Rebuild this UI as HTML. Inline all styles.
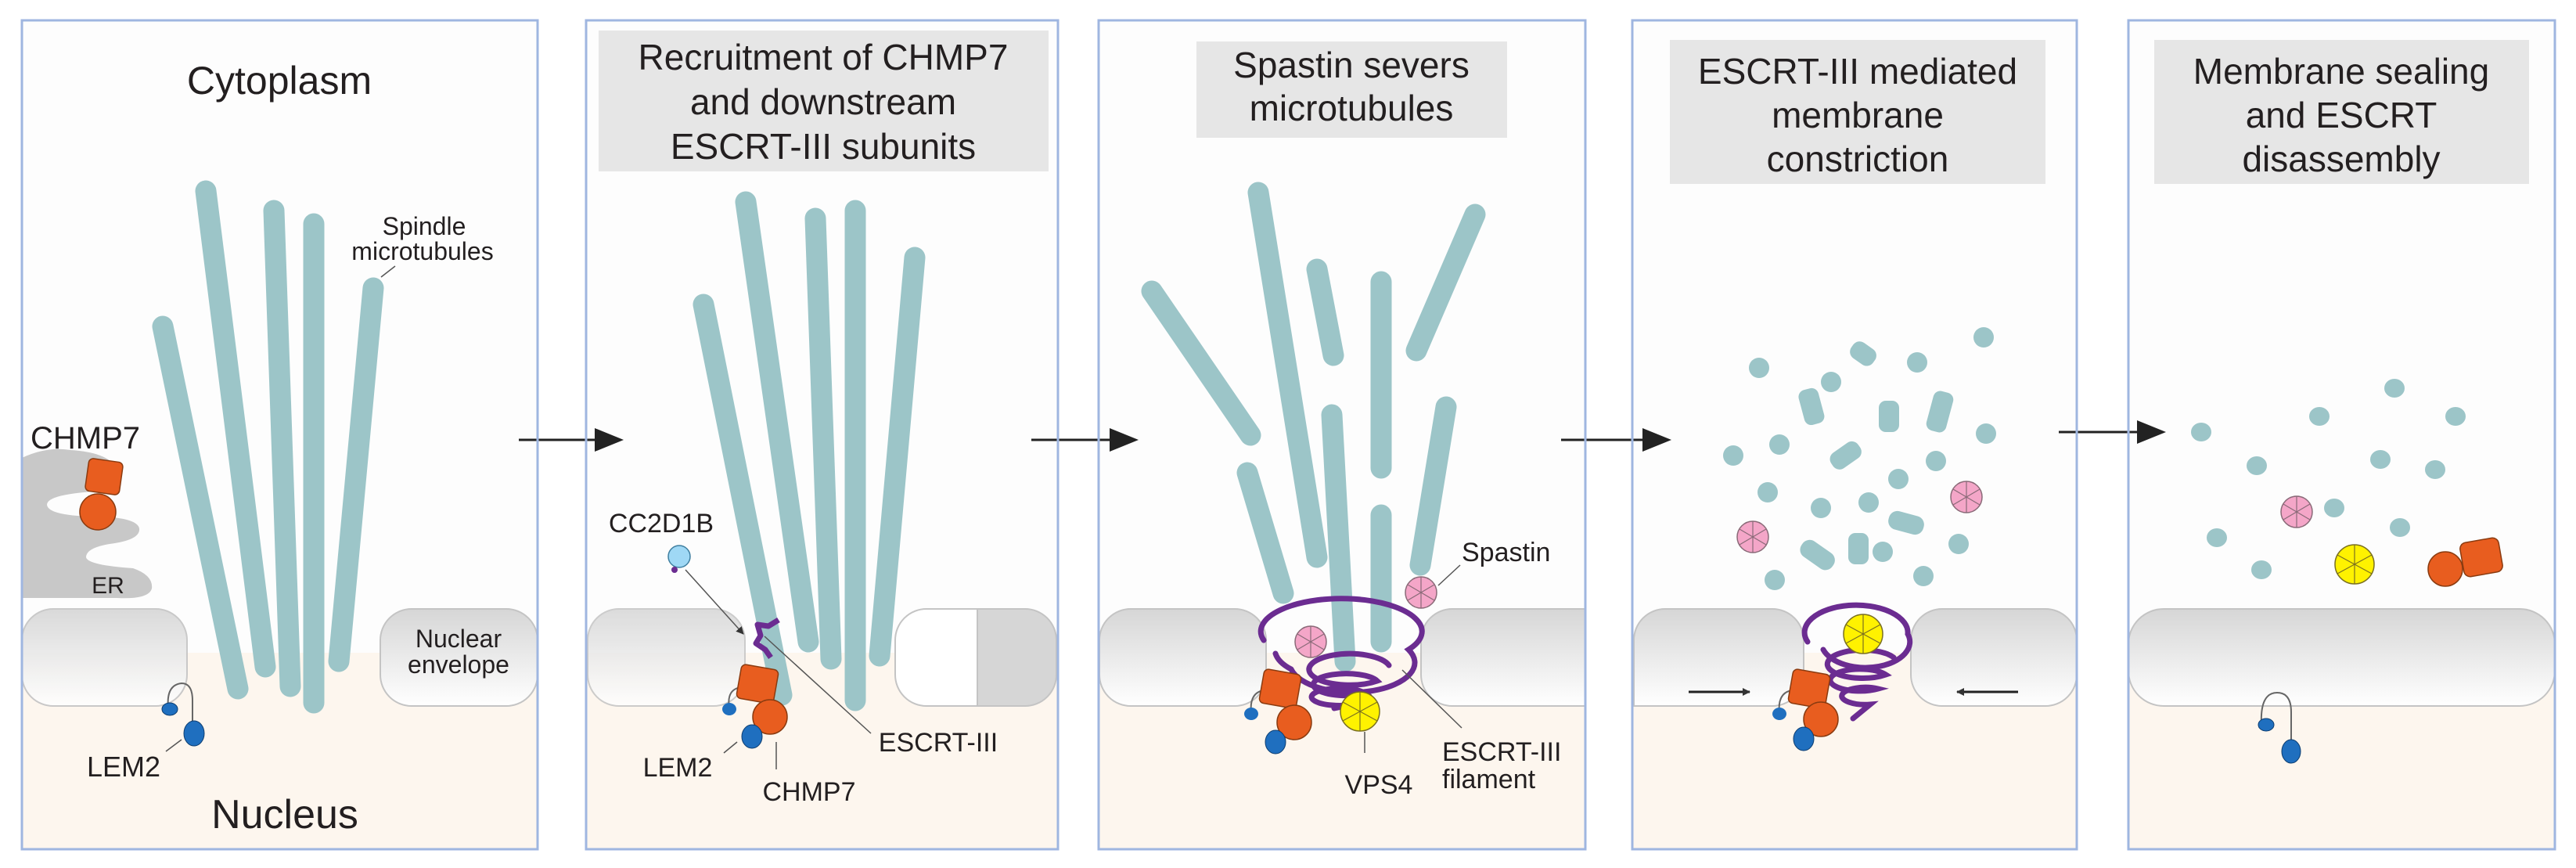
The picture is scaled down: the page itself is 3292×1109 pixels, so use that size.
<!DOCTYPE html>
<html><head><meta charset="utf-8"><style>
html,body{margin:0;padding:0;background:#fff}
svg{display:block}
text{font-family:"Liberation Sans",sans-serif;fill:#231f20}
</style></head><body>
<svg width="3292" height="1109" viewBox="0 0 3292 1109" xmlns="http://www.w3.org/2000/svg">
<defs>
<linearGradient id="mg" x1="0" y1="0" x2="0" y2="1"><stop offset="0" stop-color="#d6d6d6"/><stop offset="1" stop-color="#ffffff"/></linearGradient>
<g id="pink"><circle r="20" fill="#f4a6c8" stroke="#8a6a78" stroke-width="1.5"/><path d="M0 0L0 -20M0 0L17 -10M0 0L17 10M0 0L0 20M0 0L-17 10M0 0L-17 -10" stroke="#8a6a78" stroke-width="1.2"/></g>
<g id="yel"><circle r="25" fill="#fff200" stroke="#7a7020" stroke-width="1.5"/><path d="M0 0L0 -25M0 0L22 -12M0 0L22 12M0 0L0 25M0 0L-22 12M0 0L-22 -12" stroke="#7a7020" stroke-width="1.2"/></g>
<marker id="ah" markerWidth="10" markerHeight="10" refX="9" refY="5" orient="auto" markerUnits="userSpaceOnUse"><path d="M0 0L10 5L0 10z" fill="#333"/></marker>
</defs>
<rect width="3292" height="1109" fill="#fff"/>

<!-- panel backgrounds -->
<g stroke="none">
<rect x="28" y="26" width="659" height="808" fill="#fdfdfd"/><rect x="28" y="834" width="659" height="251" fill="#fdf6ee"/>
<rect x="749" y="26" width="603" height="808" fill="#fdfdfd"/><rect x="749" y="834" width="603" height="251" fill="#fdf6ee"/>
<rect x="1404" y="26" width="622" height="808" fill="#fdfdfd"/><rect x="1404" y="834" width="622" height="251" fill="#fdf6ee"/>
<rect x="2086" y="26" width="568" height="808" fill="#fdfdfd"/><rect x="2086" y="834" width="568" height="251" fill="#fdf6ee"/>
<rect x="2720" y="26" width="545" height="808" fill="#fdfdfd"/><rect x="2720" y="834" width="545" height="251" fill="#fdf6ee"/>
</g>

<!-- title boxes -->
<rect x="765" y="39" width="575" height="180" fill="#e6e6e6"/>
<rect x="1529" y="53" width="397" height="123" fill="#e6e6e6"/>
<rect x="2134" y="51" width="480" height="184" fill="#e6e6e6"/>
<rect x="2753" y="51" width="479" height="184" fill="#e6e6e6"/>

<g font-size="46" text-anchor="middle">
<text x="357" y="120" font-size="50">Cytoplasm</text>
<text x="364" y="1058" font-size="52">Nucleus</text>
<text x="1052" y="89">Recruitment of CHMP7</text>
<text x="1052" y="146">and downstream</text>
<text x="1052" y="203">ESCRT-III subunits</text>
<text x="1727" y="99">Spastin severs</text>
<text x="1727" y="154">microtubules</text>
<text x="2374" y="107">ESCRT-III mediated</text>
<text x="2374" y="163">membrane</text>
<text x="2374" y="219">constriction</text>
<text x="2992" y="107">Membrane sealing</text>
<text x="2992" y="163">and ESCRT</text>
<text x="2992" y="219">disassembly</text>
</g>

<!-- ===== Panel 1 ===== -->
<path d="M28 585 Q60 570 90 575 Q140 578 150 600 Q160 620 120 628 Q60 632 60 645 Q62 660 130 660 Q175 662 178 675 Q180 690 140 695 Q110 700 110 712 Q112 722 170 726 Q196 735 194 752 Q190 766 150 764 L28 764 Z" fill="#c8c8c8"/>
<text x="138" y="758" font-size="30" text-anchor="middle">ER</text>
<text x="109" y="573" font-size="40" text-anchor="middle">CHMP7</text>
<rect x="111" y="588" width="44" height="42" rx="6" fill="#e85d1f" stroke="#8a3b10" stroke-width="1.5" transform="rotate(8 133 609)"/>
<ellipse cx="125" cy="654" rx="23" ry="23" fill="#e85d1f" stroke="#8a3b10" stroke-width="1.5"/>
<g stroke="#9cc5c8" stroke-width="27" stroke-linecap="round">
<line x1="208" y1="417" x2="304" y2="880"/>
<line x1="263" y1="244" x2="339" y2="852"/>
<line x1="350" y1="269" x2="371" y2="877"/>
<line x1="401" y1="286" x2="401" y2="898"/>
<line x1="477" y1="368" x2="433" y2="845"/>
</g>
<rect x="28" y="778" width="211" height="124" rx="40" fill="url(#mg)" stroke="#c4c4c4" stroke-width="2" opacity="0.9"/>
<rect x="486" y="778" width="201" height="124" rx="40" fill="url(#mg)" stroke="#c4c4c4" stroke-width="2"/>
<text x="586" y="827" font-size="32" text-anchor="middle">Nuclear</text>
<text x="586" y="860" font-size="32" text-anchor="middle">envelope</text>
<text x="542" y="300" font-size="32" text-anchor="middle">Spindle</text>
<text x="540" y="332" font-size="32" text-anchor="middle">microtubules</text>
<line x1="505" y1="340" x2="487" y2="354" stroke="#555" stroke-width="1.5"/>
<path d="M215 905 Q212 875 232 873 Q246 873 246 895 L246 925" fill="none" stroke="#666" stroke-width="2"/>
<ellipse cx="217" cy="906" rx="10" ry="8" fill="#1f6fbf" stroke="#0d3d70" stroke-width="1"/>
<ellipse cx="248" cy="937" rx="13" ry="16" fill="#1f6fbf" stroke="#0d3d70" stroke-width="1"/>
<line x1="232" y1="945" x2="212" y2="960" stroke="#555" stroke-width="1.5"/>
<text x="158" y="992" font-size="36" text-anchor="middle">LEM2</text>

<!-- arrows between panels -->
<g stroke="#222" stroke-width="3">
<line x1="663" y1="562" x2="760" y2="562"/><line x1="1318" y1="562" x2="1420" y2="562"/>
<line x1="1995" y1="562" x2="2100" y2="562"/><line x1="2631" y1="552" x2="2732" y2="552"/>
</g>
<g fill="#222">
<path d="M760 547L797 562L760 577Z"/><path d="M1418 547L1455 562L1418 577Z"/>
<path d="M2099 547L2136 562L2099 577Z"/><path d="M2731 537L2768 552L2731 567Z"/>
</g>

<!-- ===== Panel 2 ===== -->
<g stroke="#9cc5c8" stroke-width="27" stroke-linecap="round">
<line x1="899" y1="389" x2="999" y2="888"/>
<line x1="953" y1="258" x2="1033" y2="820"/>
<line x1="1042" y1="279" x2="1062" y2="842"/>
<line x1="1093" y1="269" x2="1093" y2="895"/>
<line x1="1169" y1="329" x2="1124" y2="838"/>
</g>
<rect x="751" y="778" width="201" height="124" rx="40" fill="url(#mg)" stroke="#c4c4c4" stroke-width="2" opacity="0.85"/>
<path d="M1184 778 H1249 V902 H1184 A40 40 0 0 1 1144 862 V818 A40 40 0 0 1 1184 778Z" fill="#fff" stroke="#c4c4c4" stroke-width="2"/>
<path d="M1249 778 H1310 A40 40 0 0 1 1350 818 V862 A40 40 0 0 1 1310 902 H1249Z" fill="#d6d6d6" stroke="#c4c4c4" stroke-width="2"/>
<text x="845" y="680" font-size="34" text-anchor="middle">CC2D1B</text>
<circle cx="868" cy="711" r="14" fill="#9fd8f5" stroke="#3f7fa0" stroke-width="1.5"/>
<circle cx="862" cy="728" r="4" fill="#6b2c91"/>
<line x1="876" y1="728" x2="950" y2="810" stroke="#555" stroke-width="1.5" marker-end="url(#ah)"/>
<path d="M995 792 L982 800 L968 798 L972 812 L966 822 L978 830 L985 840" fill="none" stroke="#6b2c91" stroke-width="7" stroke-linejoin="round"/>
<line x1="977" y1="813" x2="1113" y2="937" stroke="#555" stroke-width="1.5"/>
<path d="M932 905 Q928 880 948 878 L955 880" fill="none" stroke="#666" stroke-width="2"/>
<rect x="944" y="852" width="48" height="44" rx="6" fill="#e85d1f" stroke="#8a3b10" stroke-width="1.5" transform="rotate(10 968 874)"/>
<circle cx="984" cy="916" r="22" fill="#e85d1f" stroke="#8a3b10" stroke-width="1.5"/>
<ellipse cx="932" cy="906" rx="9" ry="8" fill="#1f6fbf"/>
<ellipse cx="961" cy="941" rx="13" ry="15" fill="#1f6fbf" stroke="#0d3d70" stroke-width="1"/>
<line x1="942" y1="948" x2="925" y2="962" stroke="#555" stroke-width="1.5"/>
<line x1="992" y1="948" x2="992" y2="983" stroke="#555" stroke-width="1.5"/>
<text x="866" y="992" font-size="34" text-anchor="middle">LEM2</text>
<text x="1034" y="1023" font-size="34" text-anchor="middle">CHMP7</text>
<text x="1199" y="960" font-size="34" text-anchor="middle">ESCRT-III</text>

<!-- ===== Panel 3 ===== -->
<g stroke="#9cc5c8" stroke-width="27" stroke-linecap="round">
<line x1="1472" y1="372" x2="1598" y2="556"/>
<line x1="1608" y1="246" x2="1683" y2="712"/>
<line x1="1683" y1="344" x2="1704" y2="454"/>
<line x1="1702" y1="530" x2="1719" y2="845"/>
<line x1="1765" y1="360" x2="1765" y2="598"/>
<line x1="1765" y1="658" x2="1765" y2="820"/>
<line x1="1885" y1="274" x2="1810" y2="448"/>
<line x1="1848" y1="520" x2="1815" y2="722"/>
<line x1="1594" y1="604" x2="1640" y2="758"/>
</g>
<rect x="1405" y="778" width="213" height="124" rx="40" fill="url(#mg)" stroke="#c4c4c4" stroke-width="2"/>
<path d="M1856 778 H2026 V902 H1856 A40 40 0 0 1 1816 862 V818 A40 40 0 0 1 1856 778Z" fill="url(#mg)" stroke="#c4c4c4" stroke-width="2"/>
<g fill="none" stroke="#6b2c91" stroke-width="7" stroke-linecap="round">
<path d="M1615 818 A103 42 0 1 1 1800 830 A80 38 0 1 1 1650 855"/>
<path d="M1650 855 A80 38 0 0 1 1630 835"/>
<path d="M1775 850 A52 20 0 1 0 1760 870 A42 14 0 1 0 1745 886 A36 11 0 1 0 1730 900 L1705 905"/>
</g>
<use href="#pink" x="1675" y="820"/>
<use href="#pink" x="1816" y="757"/>
<use href="#yel" x="1738" y="909"/>
<path d="M1599 912 Q1596 885 1615 882" fill="none" stroke="#666" stroke-width="2"/>
<rect x="1612" y="858" width="48" height="44" rx="6" fill="#e85d1f" stroke="#8a3b10" stroke-width="1.5" transform="rotate(10 1636 880)"/>
<circle cx="1654" cy="923" r="22" fill="#e85d1f" stroke="#8a3b10" stroke-width="1.5"/>
<ellipse cx="1599" cy="912" rx="9" ry="8" fill="#1f6fbf"/>
<ellipse cx="1630" cy="948" rx="13" ry="15" fill="#1f6fbf" stroke="#0d3d70" stroke-width="1"/>
<line x1="1838" y1="748" x2="1866" y2="722" stroke="#555" stroke-width="1.5"/>
<text x="1868" y="717" font-size="34">Spastin</text>
<line x1="1744" y1="935" x2="1744" y2="962" stroke="#555" stroke-width="1.5"/>
<text x="1762" y="1014" font-size="34" text-anchor="middle">VPS4</text>
<line x1="1792" y1="856" x2="1868" y2="930" stroke="#555" stroke-width="1.5"/>
<text x="1843" y="972" font-size="34">ESCRT-III</text>
<text x="1843" y="1007" font-size="34">filament</text>

<!-- ===== Panel 4 ===== -->
<g fill="#9cc5c8">
<circle cx="2248" cy="470" r="13"/><circle cx="2340" cy="488" r="13"/><circle cx="2450" cy="463" r="13"/><circle cx="2535" cy="431" r="13"/>
<circle cx="2215" cy="582" r="13"/><circle cx="2274" cy="568" r="13"/><circle cx="2538" cy="554" r="13"/><circle cx="2474" cy="589" r="13"/>
<circle cx="2426" cy="612" r="13"/><circle cx="2259" cy="629" r="13"/><circle cx="2327" cy="649" r="13"/><circle cx="2388" cy="642" r="13"/>
<circle cx="2503" cy="695" r="13"/><circle cx="2406" cy="705" r="13"/><circle cx="2268" cy="741" r="13"/><circle cx="2458" cy="736" r="13"/>
<rect x="2364" y="438" width="34" height="24" rx="10" transform="rotate(35 2378 451)"/>
<rect x="2302" y="497" width="26" height="46" rx="9" transform="rotate(-15 2313 520)"/>
<rect x="2401" y="512" width="26" height="40" rx="9"/>
<rect x="2466" y="500" width="26" height="52" rx="9" transform="rotate(15 2479 526)"/>
<rect x="2339" y="572" width="42" height="24" rx="10" transform="rotate(-35 2356 585)"/>
<rect x="2413" y="656" width="46" height="24" rx="11" transform="rotate(15 2436 668)"/>
<rect x="2299" y="694" width="48" height="24" rx="11" transform="rotate(35 2318 707)"/>
<rect x="2362" y="681" width="26" height="40" rx="9"/>
</g>
<use href="#pink" x="2240" y="686"/>
<use href="#pink" x="2513" y="635"/>
<path d="M2128 778 H2265 A40 40 0 0 1 2305 818 V862 A40 40 0 0 1 2265 902 H2088 V818 A40 40 0 0 1 2128 778Z" fill="url(#mg)" stroke="#c4c4c4" stroke-width="2"/>
<path d="M2482 778 H2614 A40 40 0 0 1 2654 818 V862 A40 40 0 0 1 2614 902 H2482 A40 40 0 0 1 2442 862 V818 A40 40 0 0 1 2482 778Z" fill="url(#mg)" stroke="#c4c4c4" stroke-width="2"/>
<line x1="2158" y1="884" x2="2236" y2="884" stroke="#222" stroke-width="3" marker-end="url(#ah)"/>
<line x1="2579" y1="884" x2="2501" y2="884" stroke="#222" stroke-width="3" marker-end="url(#ah)"/>
<g fill="none" stroke="#6b2c91" stroke-width="7" stroke-linecap="round">
<path d="M2310 820 A66 35 0 1 1 2438 810 A55 32 0 1 1 2330 830"/>
<path d="M2420 840 A45 18 0 1 0 2410 862 A38 14 0 1 0 2400 880 A30 11 0 1 0 2390 900 L2368 918"/>
</g>
<use href="#yel" x="2381" y="810"/>
<path d="M2274 912 Q2271 885 2290 882" fill="none" stroke="#666" stroke-width="2"/>
<rect x="2288" y="858" width="48" height="44" rx="6" fill="#e85d1f" stroke="#8a3b10" stroke-width="1.5" transform="rotate(10 2312 880)"/>
<circle cx="2327" cy="919" r="22" fill="#e85d1f" stroke="#8a3b10" stroke-width="1.5"/>
<ellipse cx="2274" cy="912" rx="9" ry="8" fill="#1f6fbf"/>
<ellipse cx="2305" cy="944" rx="13" ry="15" fill="#1f6fbf" stroke="#0d3d70" stroke-width="1"/>

<!-- ===== Panel 5 ===== -->
<g fill="#9cc5c8">
<ellipse cx="2813" cy="552" rx="13" ry="12"/><ellipse cx="2964" cy="532" rx="13" ry="12"/><ellipse cx="3060" cy="496" rx="13" ry="12"/><ellipse cx="3138" cy="532" rx="13" ry="12"/>
<ellipse cx="2884" cy="595" rx="13" ry="12"/><ellipse cx="3042" cy="587" rx="13" ry="12"/><ellipse cx="3112" cy="600" rx="13" ry="12"/><ellipse cx="2983" cy="649" rx="13" ry="12"/>
<ellipse cx="3067" cy="674" rx="13" ry="12"/><ellipse cx="2833" cy="687" rx="13" ry="12"/><ellipse cx="2890" cy="728" rx="13" ry="12"/>
</g>
<use href="#pink" x="2935" y="654"/>
<use href="#yel" x="3009" y="721"/>
<circle cx="3125" cy="727" r="22" fill="#e85d1f" stroke="#8a3b10" stroke-width="1.5"/>
<rect x="3146" y="690" width="50" height="44" rx="8" fill="#e85d1f" stroke="#8a3b10" stroke-width="1.5" transform="rotate(-10 3171 712)"/>
<rect x="2720" y="778" width="545" height="124" rx="45" fill="url(#mg)" stroke="#c4c4c4" stroke-width="2"/>
<path d="M2890 926 Q2888 885 2910 885 Q2928 885 2928 910 L2928 950" fill="none" stroke="#666" stroke-width="2"/>
<ellipse cx="2896" cy="926" rx="10" ry="8" fill="#1f6fbf" stroke="#0d3d70" stroke-width="1"/>
<ellipse cx="2928" cy="960" rx="12" ry="15" fill="#1f6fbf" stroke="#0d3d70" stroke-width="1"/>

<!-- panel borders -->
<g fill="none" stroke="#9fb6e0" stroke-width="3">
<rect x="28" y="26" width="659" height="1059"/>
<rect x="749" y="26" width="603" height="1059"/>
<rect x="1404" y="26" width="622" height="1059"/>
<rect x="2086" y="26" width="568" height="1059"/>
<rect x="2720" y="26" width="545" height="1059"/>
</g>
</svg>
</body></html>
